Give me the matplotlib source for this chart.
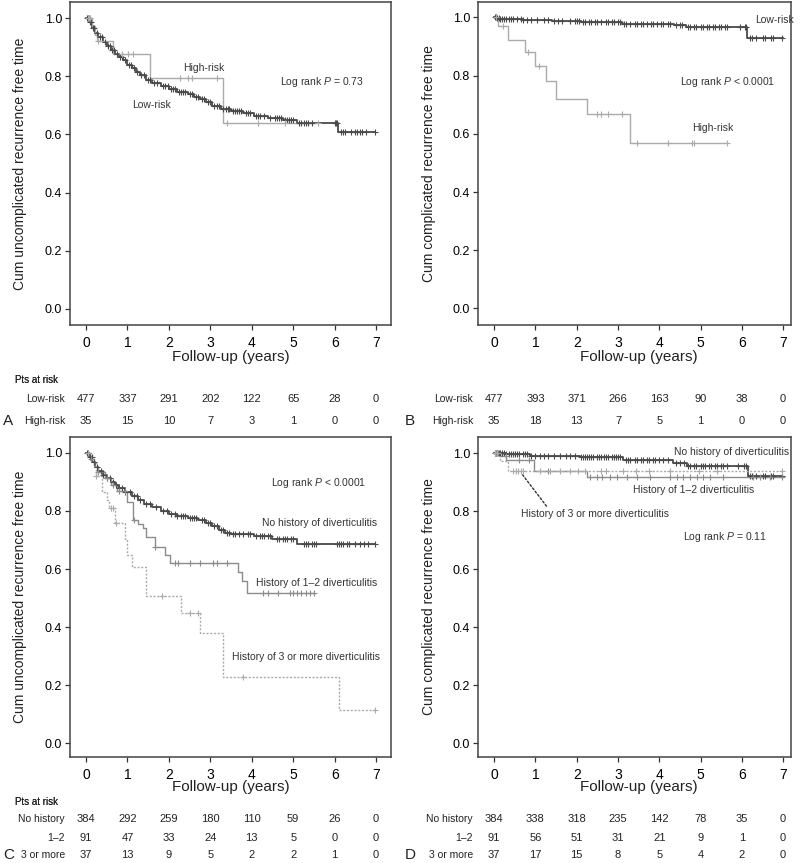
import numpy as np
import matplotlib
matplotlib.use("Agg")
import matplotlib.pyplot as plt
import matplotlib.transforms as mtransforms

plt.rcParams["font.family"] = ["Liberation Sans", "DejaVu Sans"]
plt.rcParams["mathtext.fontset"] = "custom"
plt.rcParams["mathtext.it"] = "Liberation Sans:italic"
plt.rcParams["mathtext.rm"] = "Liberation Sans"

# ---------- Data: A (uncomplicated, risk groups) ----------
A_low_t = [0.08, 0.15, 0.22, 0.3, 0.4, 0.5, 0.6, 0.7, 0.8, 0.9, 1.0, 1.1, 1.2, 1.3, 1.45, 1.6,
           1.8, 2.0, 2.2, 2.45, 2.6, 2.75, 2.9, 3.05, 3.25, 3.5, 3.8, 4.05, 4.4, 4.75, 5.1, 6.08]
A_low_s = [0.985, 0.965, 0.95, 0.935, 0.918, 0.905, 0.89, 0.877, 0.865, 0.855, 0.84, 0.828,
           0.815, 0.803, 0.787, 0.775, 0.765, 0.755, 0.747, 0.738, 0.73, 0.72, 0.71, 0.698,
           0.688, 0.68, 0.672, 0.664, 0.657, 0.65, 0.64, 0.609]
A_low_end = 6.97
A_low_cens = [0.03, 0.05, 0.07, 0.1, 0.12, 0.17, 0.2, 0.26, 0.33, 0.38, 0.45, 0.52, 0.57, 0.63,
              0.68, 0.75, 0.83, 0.88, 0.95, 1.03, 1.08, 1.16, 1.23, 1.33, 1.4, 1.5, 1.55, 1.65,
              1.72, 1.85, 1.9, 1.97, 2.05, 2.1, 2.15, 2.25, 2.3, 2.35, 2.4, 2.5, 2.55, 2.65, 2.7,
              2.8, 2.85, 2.95, 3.0, 3.1, 3.15, 3.2, 3.3, 3.38, 3.42, 3.45, 3.55, 3.6, 3.65, 3.7,
              3.75, 3.85, 3.9, 3.95, 4.1, 4.15, 4.2, 4.3, 4.45, 4.55, 4.6, 4.65, 4.7, 4.8, 4.85,
              4.9, 4.95, 5.0, 5.15, 5.2, 5.25, 5.3, 5.35, 5.45, 6.0, 6.03, 6.06, 6.15, 6.2, 6.25,
              6.4, 6.5, 6.55, 6.6, 6.65, 6.75, 6.97]

A_high_t = [0.15, 0.22, 0.27, 0.66, 1.54, 3.3]
A_high_s = [0.971, 0.943, 0.92, 0.875, 0.795, 0.638]
A_high_end = 5.6
A_high_cens = [0.05, 0.08, 0.1, 0.3, 0.86, 1.02, 1.14, 2.27, 2.47, 2.55, 3.15, 3.4, 4.16, 4.8, 5.6]

A_risk_low = [477, 337, 291, 202, 122, 65, 28, 0]
A_risk_high = [35, 15, 10, 7, 3, 1, 0, 0]

# ---------- Data: B (complicated, risk groups) ----------
B_low_t = [0.08, 0.15, 0.7, 1.4, 2.1, 3.1, 4.35, 4.65, 6.12]
B_low_s = [0.997, 0.993, 0.99, 0.987, 0.983, 0.979, 0.974, 0.966, 0.93]
B_low_end = 7.0
B_low_cens = [0.02, 0.05, 0.08, 0.12, 0.15, 0.2, 0.25, 0.3, 0.35, 0.4, 0.45, 0.55, 0.65, 0.7,
              0.8, 0.9, 1.05, 1.2, 1.3, 1.45, 1.55, 1.65, 1.85, 1.95, 2.0, 2.05, 2.15, 2.2, 2.3,
              2.35, 2.45, 2.5, 2.6, 2.7, 2.75, 2.85, 2.9, 3.0, 3.05, 3.15, 3.2, 3.3, 3.4, 3.45,
              3.55, 3.6, 3.7, 3.8, 3.85, 3.95, 4.05, 4.1, 4.2, 4.25, 4.4, 4.5, 4.55, 4.7, 4.75,
              4.85, 4.9, 5.0, 5.05, 5.15, 5.2, 5.3, 5.35, 5.45, 5.5, 5.6, 5.65, 5.95, 6.08, 6.1,
              6.2, 6.25, 6.35, 6.5, 6.55, 6.7, 6.75, 6.97]

B_high_t = [0.1, 0.34, 0.74, 0.99, 1.25, 1.51, 2.26, 3.28]
B_high_s = [0.971, 0.922, 0.88, 0.834, 0.78, 0.72, 0.668, 0.57]
B_high_end = 5.64
B_high_cens = [0.05, 0.22, 0.82, 1.08, 2.5, 2.6, 2.75, 3.1, 3.45, 4.2, 4.8, 4.85, 5.64]

B_risk_low = [477, 393, 371, 266, 163, 90, 38, 0]
B_risk_high = [35, 18, 13, 7, 5, 1, 0, 0]

# ---------- Data: C (uncomplicated, history) ----------
C_no_t = [0.08, 0.15, 0.22, 0.3, 0.4, 0.5, 0.6, 0.7, 0.8, 0.95, 1.1, 1.25, 1.4, 1.6, 1.8, 2.0,
          2.2, 2.45, 2.7, 2.9, 3.05, 3.2, 3.35, 3.5, 4.05, 4.5, 5.1]
C_no_s = [0.985, 0.968, 0.952, 0.937, 0.925, 0.912, 0.9, 0.89, 0.878, 0.864, 0.852, 0.838,
          0.825, 0.812, 0.8, 0.79, 0.783, 0.776, 0.768, 0.757, 0.747, 0.735, 0.725, 0.72,
          0.713, 0.704, 0.686]
C_no_end = 6.97
C_no_cens = [0.03, 0.06, 0.1, 0.14, 0.2, 0.27, 0.35, 0.42, 0.5, 0.58, 0.65, 0.72, 0.8, 0.88,
             0.95, 1.05, 1.15, 1.22, 1.3, 1.45, 1.55, 1.7, 1.85, 1.95, 2.05, 2.15, 2.2, 2.3,
             2.35, 2.4, 2.5, 2.55, 2.6, 2.65, 2.8, 2.85, 2.95, 3.0, 3.1, 3.15, 3.25, 3.3, 3.4,
             3.45, 3.55, 3.6, 3.7, 3.8, 3.9, 3.95, 4.1, 4.2, 4.25, 4.3, 4.4, 4.45, 4.6, 4.65,
             4.75, 4.8, 4.85, 4.95, 5.0, 5.25, 5.3, 5.35, 5.45, 5.5, 5.55, 6.05, 6.1, 6.15, 6.2,
             6.3, 6.35, 6.5, 6.6, 6.7, 6.8, 6.97]

C_12_t = [0.1, 0.2, 0.3, 0.45, 0.6, 0.75, 1.0, 1.14, 1.25, 1.38, 1.46, 1.67, 1.9, 2.03, 3.66,
          3.76, 3.88]
C_12_s = [0.978, 0.956, 0.934, 0.912, 0.89, 0.868, 0.83, 0.77, 0.755, 0.74, 0.71, 0.677, 0.648,
          0.622, 0.59, 0.557, 0.517]
C_12_end = 5.5
C_12_cens = [0.12, 0.3, 0.5, 0.65, 0.8, 0.95, 1.17, 1.67, 2.15, 2.22, 2.51, 2.75, 3.07, 3.16,
             3.4, 4.28, 4.4, 4.64, 4.93, 5.0, 5.1, 5.2, 5.3, 5.4, 5.5]

C_3_t = [0.15, 0.25, 0.38, 0.5, 0.55, 0.7, 0.93, 1.0, 1.1, 1.45, 2.3, 2.75, 3.3, 6.11]
C_3_s = [0.973, 0.919, 0.865, 0.838, 0.811, 0.757, 0.703, 0.649, 0.608, 0.506, 0.45, 0.378,
         0.227, 0.113]
C_3_end = 6.97
C_3_cens = [0.04, 0.25, 0.6, 0.65, 0.72, 1.83, 2.5, 2.7, 3.8, 6.97]

C_risk_no = [384, 292, 259, 180, 110, 59, 26, 0]
C_risk_12 = [91, 47, 33, 24, 13, 5, 0, 0]
C_risk_3 = [37, 13, 9, 5, 2, 2, 1, 0]

# ---------- Data: D (complicated, history) ----------
D_no_t = [0.3, 0.87, 2.08, 3.13, 4.34, 4.67, 6.14]
D_no_s = [0.996, 0.991, 0.986, 0.976, 0.967, 0.957, 0.922]
D_no_end = 6.97
D_no_cens = [0.02, 0.05, 0.08, 0.12, 0.15, 0.2, 0.25, 0.3, 0.35, 0.4, 0.45, 0.5, 0.55, 0.6, 0.7,
             0.75, 0.8, 0.9, 1.0, 1.1, 1.2, 1.3, 1.45, 1.6, 1.75, 1.85, 1.95, 2.1, 2.15, 2.2,
             2.25, 2.3, 2.35, 2.4, 2.5, 2.55, 2.6, 2.65, 2.7, 2.75, 2.85, 2.9, 2.95, 3.0, 3.05,
             3.2, 3.25, 3.3, 3.4, 3.45, 3.55, 3.6, 3.7, 3.75, 3.85, 3.9, 4.0, 4.1, 4.2, 4.4,
             4.5, 4.6, 4.7, 4.75, 4.85, 4.9, 5.0, 5.05, 5.1, 5.2, 5.25, 5.35, 5.4, 5.5, 5.55,
             5.65, 5.9, 6.05, 6.1, 6.2, 6.25, 6.35, 6.5, 6.55, 6.7, 6.75, 6.97]

D_12_t = [0.15, 0.3, 0.97, 2.24]
D_12_s = [0.989, 0.976, 0.94, 0.917]
D_12_end = 6.97
D_12_cens = [0.05, 0.1, 0.29, 0.6, 0.85, 1.3, 2.33, 2.49, 2.61, 2.81, 2.97, 3.21, 3.46, 3.78,
             4.26, 4.42, 4.58, 4.75, 4.91, 5.07, 5.23, 5.55, 6.28, 6.44, 6.68, 6.97]

D_3_t = [0.15, 0.34]
D_3_s = [0.973, 0.938]
D_3_end = 7.0
D_3_cens = [0.03, 0.08, 0.46, 0.52, 0.58, 0.64, 0.7, 1.11, 1.36, 1.6, 1.84, 2.04, 2.2, 2.6,
            2.7, 3.12, 3.44, 3.76, 4.25, 4.97, 5.4, 6.97]

D_risk_no = [384, 338, 318, 235, 142, 78, 35, 0]
D_risk_12 = [91, 56, 51, 31, 21, 9, 1, 0]
D_risk_3 = [37, 17, 15, 8, 5, 4, 2, 0]

YEARS = [0, 1, 2, 3, 4, 5, 6, 7]

DARK = "#4a4a4a"
MID = "#8c8c8c"
LIGHT = "#ababab"
TXT = "#222222"
W, H = 800, 863

fig = plt.figure(figsize=(8, 8.63), dpi=100)


def px_axes(l, t, r, b):
    return fig.add_axes([l / W, 1 - b / H, (r - l) / W, (b - t) / H])


# ---------- KM curve ----------
def km(ax, t, s, end, cens, color, ls="-", lw=1.0, ms=5):
    tt = np.array([0.0] + list(t) + [end])
    ss = np.array([1.0] + list(s) + [s[-1]])
    ax.step(tt, ss, where="post", color=color, ls=ls, lw=lw, zorder=3)
    c = np.array(cens)
    idx = np.searchsorted(tt, c, side="right") - 1
    ax.plot(c, ss[idx], ls="none", marker="+", ms=ms, mew=0.8, color=color, zorder=4)


def style_axes(ax, xlim, ylim, ylabel):
    ax.set_xlim(*xlim)
    ax.set_ylim(*ylim)
    ax.set_xticks(YEARS)
    ax.set_xticklabels([str(y) for y in YEARS], fontsize=10)
    ax.set_yticks([0, 0.2, 0.4, 0.6, 0.8, 1.0])
    ax.set_yticklabels(["0.0", "0.2", "0.4", "0.6", "0.8", "1.0"], fontsize=9)
    ax.tick_params(direction="out", length=3.6, width=0.9, color="#333333", pad=2)
    ax.tick_params(axis="x", pad=4)
    for sp in ax.spines.values():
        sp.set_color("#444444")
        sp.set_linewidth(1.1)
    ax.set_ylabel(ylabel, fontsize=10, color=TXT)
    ax.yaxis.set_label_coords(-0.134, 0.5)


# ---------- Risk table ----------
def risk_table(ax, rows, names, xlab_y, pts_y, row_ys, label_x, letter, letter_x):
    tr = mtransforms.blended_transform_factory(ax.transData, fig.transFigure)
    cx = np.mean([ax.transData.transform((0, 0))[0], ax.transData.transform((7, 0))[0]]) / W
    fig.text(cx, 1 - xlab_y / H, "Follow-up (years)", ha="center", va="center",
             fontsize=11, color=TXT)
    fig.text(15 / W, 1 - pts_y / H, "Pts at risk", ha="left", va="center",
             fontsize=7, color=TXT)
    for vals, name, ry in zip(rows, names, row_ys):
        fig.text(label_x / W, 1 - ry / H, name, ha="right", va="center",
                 fontsize=7.5, color=TXT)
        for yr, v in zip(YEARS, vals):
            ax.text(yr, 1 - ry / H, str(v), transform=tr, ha="center", va="center",
                    fontsize=8, color=TXT)
    fig.text(letter_x / W, 1 - row_ys[-1] / H, letter, ha="left", va="center",
             fontsize=11, color=TXT)


# ---------- Panel A ----------
axA = px_axes(70, 2, 391, 325)
km(axA, A_low_t, A_low_s, A_low_end, A_low_cens, DARK, lw=1.3)
km(axA, A_high_t, A_high_s, A_high_end, A_high_cens, LIGHT)
style_axes(axA, (-0.386, 7.36), (-0.055, 1.055), "Cum uncomplicated recurrence free time")
axA.text(2.85, 0.828, "High-risk", fontsize=7.5, ha="center", va="center", color="#333333")
axA.text(1.59, 0.70, "Low-risk", fontsize=7.5, ha="center", va="center", color="#333333")
axA.text(5.69, 0.781, r"Log rank $P$ = 0.73", fontsize=7.5, ha="center", va="center",
         color="#333333")

# ---------- Panel B ----------
axB = px_axes(478, 2, 791, 325)
km(axB, B_low_t, B_low_s, B_low_end, B_low_cens, DARK, lw=1.3)
km(axB, B_high_t, B_high_s, B_high_end, B_high_cens, LIGHT)
style_axes(axB, (-0.39, 7.19), (-0.057, 1.053), "Cum complicated recurrence free time")
axB.text(6.78, 0.99, "Low-risk", fontsize=7.5, ha="center", va="center", color="#333333")
axB.text(5.3, 0.619, "High-risk", fontsize=7.5, ha="center", va="center", color="#333333")
axB.text(5.65, 0.779, r"Log rank $P$ < 0.0001", fontsize=7.5, ha="center", va="center",
         color="#333333")

# ---------- Panel C ----------
axC = px_axes(70, 437, 391, 757)
km(axC, C_no_t, C_no_s, C_no_end, C_no_cens, DARK, lw=1.3)
km(axC, C_12_t, C_12_s, C_12_end, C_12_cens, MID)
km(axC, C_3_t, C_3_s, C_3_end, C_3_cens, LIGHT, ls=(0, (1.5, 1.2)))
style_axes(axC, (-0.386, 7.36), (-0.048, 1.055), "Cum uncomplicated recurrence free time")
axC.text(5.62, 0.898, r"Log rank $P$ < 0.0001", fontsize=7.5, ha="center", va="center",
         color="#333333")
axC.text(5.64, 0.76, "No history of diverticulitis", fontsize=7.5, ha="center", va="center",
         color="#333333")
axC.text(5.56, 0.553, "History of 1\u20132 diverticulitis", fontsize=7.5, ha="center",
         va="center", color="#333333")
axC.text(5.31, 0.295, "History of 3 or more diverticulitis", fontsize=7.5, ha="center",
         va="center", color="#333333")

# ---------- Panel D ----------
axD = px_axes(478, 437, 791, 757)
km(axD, D_no_t, D_no_s, D_no_end, D_no_cens, DARK, lw=1.3)
km(axD, D_12_t, D_12_s, D_12_end, D_12_cens, MID)
km(axD, D_3_t, D_3_s, D_3_end, D_3_cens, LIGHT, ls=(0, (1.5, 1.2)))
style_axes(axD, (-0.39, 7.19), (-0.047, 1.056), "Cum complicated recurrence free time")
axD.text(5.76, 1.003, "No history of diverticulitis", fontsize=7.5, ha="center", va="center",
         color="#333333")
axD.text(4.82, 0.873, "History of 1\u20132 diverticulitis", fontsize=7.5, ha="center",
         va="center", color="#333333")
axD.text(2.45, 0.79, "History of 3 or more diverticulitis", fontsize=7.5, ha="center",
         va="center", color="#333333")
axD.annotate("", xy=(0.65, 0.933), xytext=(1.31, 0.81),
             arrowprops=dict(arrowstyle="-", ls=(0, (1.5, 1.5)), color="#333333", lw=1.0))
axD.text(5.58, 0.712, r"Log rank $P$ = 0.11", fontsize=7.5, ha="center", va="center",
         color="#333333")

# ---------- Risk tables ----------
risk_table(axA, [A_risk_low, A_risk_high], ["Low-risk", "High-risk"],
           357, 380, [399, 421], 65, "A", 3)
risk_table(axB, [B_risk_low, B_risk_high], ["Low-risk", "High-risk"],
           357, 380, [399, 421], 473, "B", 405)
risk_table(axC, [C_risk_no, C_risk_12, C_risk_3], ["No history", "1\u20132", "3 or more"],
           787, 802, [819, 838, 855], 65, "C", 3)
risk_table(axD, [D_risk_no, D_risk_12, D_risk_3], ["No history", "1\u20132", "3 or more"],
           787, 802, [819, 838, 855], 473, "D", 405)

fig.savefig("out.png", dpi=100)
